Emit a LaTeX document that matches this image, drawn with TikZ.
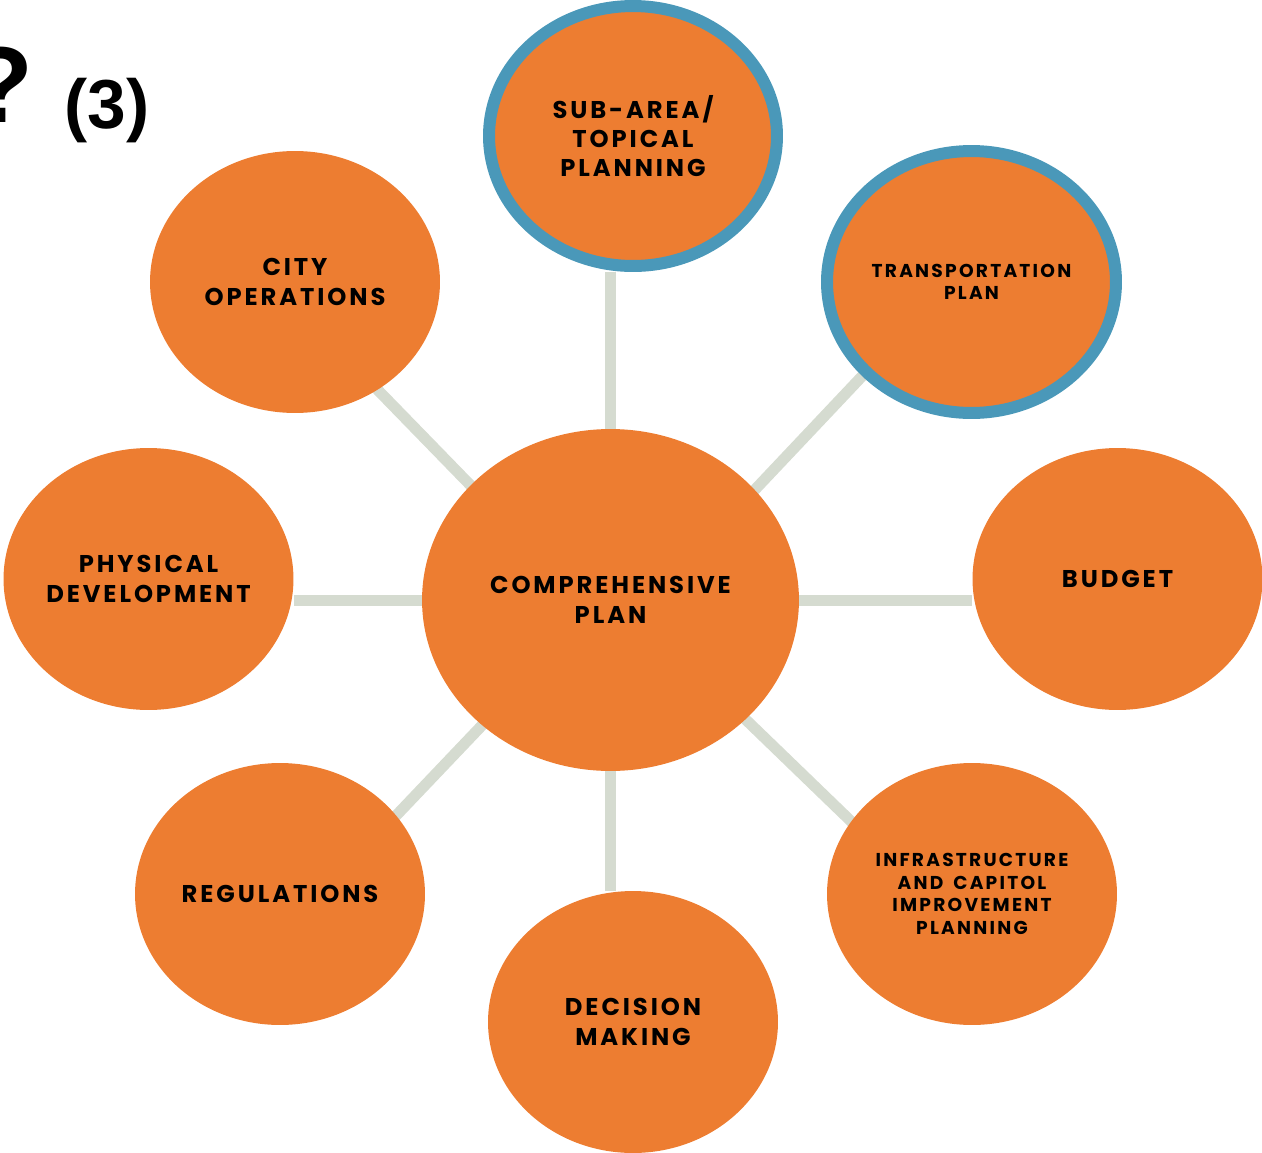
\documentclass[tikz,border=0pt]{standalone}
\usepackage{fontspec}
\setmainfont{Liberation Sans}
\newfontfamily\lblfont[LetterSpace=12,WordSpace=1.6]{Poppins}
\usetikzlibrary{shapes.geometric,backgrounds}
\definecolor{bub}{HTML}{ED7D31}
\definecolor{ring}{HTML}{4A98B9}
\definecolor{spoke}{HTML}{D5DBD0}
\begin{document}
\begin{tikzpicture}[x=0.02cm,y=-0.02cm,
  bubble/.style={ellipse, fill=bub, inner sep=0pt, minimum width=5.8cm,
    minimum height=5.24cm, align=center,
    font=\lblfont\bfseries\fontsize{13.8}{16.7}\selectfont},
  small/.style={font=\lblfont\bfseries\fontsize{10.6}{12.75}\selectfont},
  ringed/.style={draw=ring, line width=0.24cm},
  spk/.style={draw=spoke, line width=0.22cm}]
\useasboundingbox (0,0) rectangle (1262,1153);

% heading fragment
\node[anchor=base east, inner sep=0pt,
  font=\bfseries\fontsize{61.5}{61.5}\selectfont] (q) at (34,122) {?};
\node[anchor=base west, inner sep=0pt,
  font=\bfseries\fontsize{39.5}{39.5}\selectfont] (num) at (64,128) {(3)};

% hub and satellites
\node[bubble, minimum width=7.54cm, minimum height=6.84cm] (hub) at (610.5,600) {COMPREHENSIVE\\PLAN};
\node[bubble, ringed, minimum width=5.76cm, minimum height=5.2cm] (sub) at (633,136) {SUB-AREA/\\TOPICAL\\PLANNING};
\node[bubble, ringed, small, minimum width=5.78cm, minimum height=5.24cm] (trans) at (971.5,282) {TRANSPORTATION\\PLAN};
\node[bubble] (city) at (295,282) {CITY\\OPERATIONS};
\node[bubble] (phys) at (148.5,579) {PHYSICAL\\DEVELOPMENT};
\node[bubble] (bud) at (1117.5,579) {BUDGET};
\node[bubble] (reg) at (280,894) {REGULATIONS};
\node[bubble] (dec) at (633,1022) {DECISION\\MAKING};
\node[bubble, small] (infra) at (972,894) {INFRASTRUCTURE\\AND CAPITOL\\IMPROVEMENT\\PLANNING};

% diagonal spoke ends
\coordinate (ulA) at (478,493);
\coordinate (ulB) at (370,382);
\coordinate (urA) at (748,497);
\coordinate (urB) at (867,371);
\coordinate (llA) at (489,718);
\coordinate (llB) at (390,822);
\coordinate (lrA) at (741,715);
\coordinate (lrB) at (859,829);

\begin{pgfonlayer}{background}
  \draw[spk] (hub.north) -- (hub.north |- sub.south);
  \draw[spk] (hub.south) -- (hub.south |- dec.north);
  \draw[spk] (hub.west) -- (hub.west -| phys.east);
  \draw[spk] (hub.east) -- (hub.east -| bud.west);
  \draw[spk] (ulA) -- (ulB);
  \draw[spk] (urA) -- (urB);
  \draw[spk] (llA) -- (llB);
  \draw[spk] (lrA) -- (lrB);
\end{pgfonlayer}
\end{tikzpicture}
\end{document}
